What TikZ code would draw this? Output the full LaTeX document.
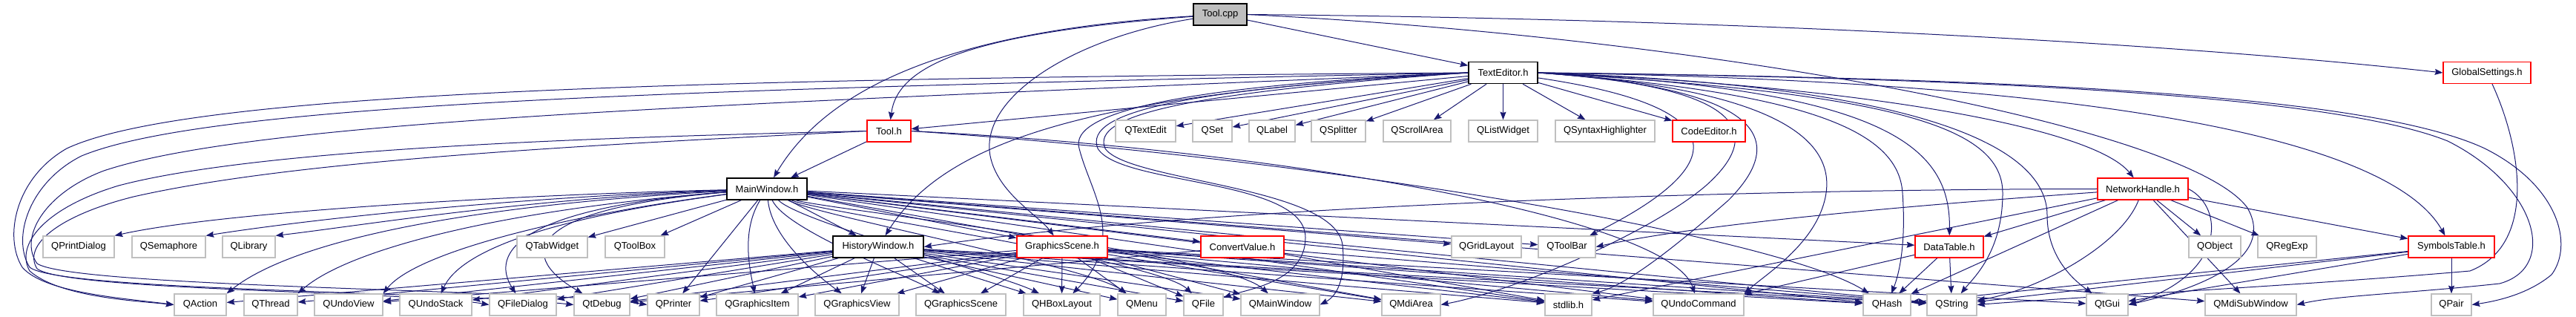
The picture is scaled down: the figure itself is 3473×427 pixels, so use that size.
\documentclass[tikz,border=0pt]{standalone}
\usepackage{fontspec}
\setmainfont{Liberation Sans}
\usetikzlibrary{arrows.meta}
\definecolor{edgec}{RGB}{25,25,112}
\definecolor{sysgray}{RGB}{191,191,191}
\definecolor{docred}{RGB}{255,0,0}
\definecolor{cppfill}{RGB}{191,191,191}
\newcommand\dxfont{\fontsize{9.75pt}{11pt}\selectfont}
\pgfdeclarelayer{edges}
\pgfsetlayers{edges,main}
\begin{document}
\begin{tikzpicture}[x=0.75pt,y=-0.75pt,
  box/.style={fill=white, minimum height=21.75pt, inner sep=0pt, font=\dxfont},
  sysbox/.style={box, draw=sysgray, line width=0.9pt},
  docbox/.style={box, draw=docred, line width=0.9pt},
  blkbox/.style={box, draw=black, line width=1.1pt},
  wd/.style={minimum width=#1*0.75pt},
  e/.style={draw=edgec, line width=0.75pt, -{Stealth[length=8pt,width=6pt,inset=1pt]}}]
\useasboundingbox (0,0) rectangle (3473,427);
% row 0
\node[blkbox, fill=cppfill, wd=72] (tc) at (1645,19.5) {Tool.cpp};
% row 1
\node[blkbox, wd=93] (te) at (2026.5,98) {TextEditor.h};
\node[docbox, wd=118] (gs) at (3353,98) {GlobalSettings.h};
% row 2
\node[docbox, wd=59] (th) at (1198.5,176.5) {Tool.h};
\node[sysbox, wd=81] (qtextedit) at (1544.5,176.5) {QTextEdit};
\node[sysbox, wd=53] (qset) at (1634.5,176.5) {QSet};
\node[sysbox, wd=62] (qlabel) at (1715,176.5) {QLabel};
\node[sysbox, wd=73] (qsplitter) at (1804.5,176.5) {QSplitter};
\node[sysbox, wd=91] (qscrollarea) at (1910.5,176.5) {QScrollArea};
\node[sysbox, wd=93] (qlistwidget) at (2026.5,176.5) {QListWidget};
\node[sysbox, wd=134] (qsyntax) at (2164,176.5) {QSyntaxHighlighter};
\node[docbox, wd=98] (codeed) at (2304,176.5) {CodeEditor.h};
% row 3
\node[blkbox, wd=108] (mw) at (1034,254.5) {MainWindow.h};
\node[docbox, wd=122] (nh) at (2889,254.5) {NetworkHandle.h};
% row 4
\node[sysbox, wd=96] (qprintdialog) at (106,332.5) {QPrintDialog};
\node[sysbox, wd=99] (qsemaphore) at (227.5,332.5) {QSemaphore};
\node[sysbox, wd=71] (qlibrary) at (335.5,332.5) {QLibrary};
\node[sysbox, wd=95] (qtabwidget) at (744.5,332.5) {QTabWidget};
\node[sysbox, wd=80] (qtoolbox) at (856,332.5) {QToolBox};
\node[blkbox, wd=122] (hw) at (1184,332.5) {HistoryWindow.h};
\node[docbox, wd=122] (gsh) at (1432,332.5) {GraphicsScene.h};
\node[docbox, wd=112] (cv) at (1675,332.5) {ConvertValue.h};
\node[sysbox, wd=94] (qgridlayout) at (2004,332.5) {QGridLayout};
\node[sysbox, wd=77] (qtoolbar) at (2112.5,332.5) {QToolBar};
\node[docbox, wd=92] (dt) at (2628,332.5) {DataTable.h};
\node[sysbox, wd=70] (qobject) at (2986,332.5) {QObject};
\node[sysbox, wd=79] (qregexp) at (3083.5,332.5) {QRegExp};
\node[docbox, wd=116] (st) at (3305,332.5) {SymbolsTable.h};
% row 5
\node[sysbox, wd=70] (qaction) at (270,410.5) {QAction};
\node[sysbox, wd=72] (qthread) at (365,410.5) {QThread};
\node[sysbox, wd=92] (qundoview) at (470,410.5) {QUndoView};
\node[sysbox, wd=97] (qundostack) at (587.5,410.5) {QUndoStack};
\node[sysbox, wd=90] (qfiledialog) at (705,410.5) {QFileDialog};
\node[sysbox, wd=75] (qtdebug) at (811.5,410.5) {QtDebug};
\node[sysbox, wd=70] (qprinter) at (908,410.5) {QPrinter};
\node[sysbox, wd=110] (qgitem) at (1021,410.5) {QGraphicsItem};
\node[sysbox, wd=113] (qgview) at (1155.5,410.5) {QGraphicsView};
\node[sysbox, wd=121] (qgscene) at (1295.5,410.5) {QGraphicsScene};
\node[sysbox, wd=103] (qhbox) at (1431.5,410.5) {QHBoxLayout};
\node[sysbox, wd=65] (qmenu) at (1539.5,410.5) {QMenu};
\node[sysbox, wd=53] (qfile) at (1622.5,410.5) {QFile};
\node[sysbox, wd=106] (qmainwindow) at (1726,410.5) {QMainWindow};
\node[sysbox, wd=79] (qmdiarea) at (1902.5,410.5) {QMdiArea};
\node[sysbox, wd=63] (stdlibh) at (2114.5,410.5) {stdlib.h};
\node[sysbox, wd=122] (qundocmd) at (2290,410.5) {QUndoCommand};
\node[sysbox, wd=64] (qhash) at (2544,410.5) {QHash};
\node[sysbox, wd=67] (qstring) at (2631.5,410.5) {QString};
\node[sysbox, wd=56] (qtgui) at (2841,410.5) {QtGui};
\node[sysbox, wd=123] (qmdisub) at (3034.5,410.5) {QMdiSubWindow};
\node[sysbox, wd=54] (qpair) at (3305,410.5) {QPair};

\begin{pgfonlayer}{edges}
% Tool.cpp
\draw[e] (tc) -- (te);
\draw[e] (tc.east) .. controls (2300,25) and (2900,55) .. (gs.west);
\draw[e] (tc.east) .. controls (2300,50) and (2950,170) .. (3030,280) .. controls (3070,350) and (2960,390) .. (qtgui.east);
\draw[e] (tc) .. controls (1300,45) and (1210,90) .. (th);
\draw[e] (tc) .. controls (1300,40) and (1120,110) .. (mw);
\draw[e] (tc) .. controls (1450,50) and (1320,130) .. (1335,210) .. controls (1345,260) and (1400,290) .. (gsh);
% TextEditor.h
\foreach \t in {qtextedit,qset,qlabel,qsplitter,qscrollarea,qlistwidget,qsyntax,codeed}
  \draw[e] (te) -- (\t);
\draw[e] (te) -- (th);
\draw[e] (te.west) .. controls (1500,125) and (1280,180) .. (hw);
\draw[e] (te.east) .. controls (2500,115) and (2820,170) .. (nh);
\draw[e] (te.east) .. controls (2550,120) and (2630,200) .. (dt);
\draw[e] (te.east) .. controls (2900,110) and (3230,200) .. (st);
\draw[e] (te) .. controls (2380,150) and (2300,240) .. (qtoolbar);
\draw[e] (te.east) .. controls (2330,115) and (2390,170) .. (2300,250) .. controls (2230,310) and (2050,390) .. (qmdiarea.east);
\draw[e] (te.east) .. controls (2360,118) and (2420,180) .. (2330,270) .. controls (2250,340) and (2190,385) .. (stdlibh.north east);
\draw[e] (te.east) .. controls (2400,120) and (2480,190) .. (2460,270) .. controls (2445,330) and (2380,370) .. (qundocmd.north east);
\draw[e] (te.east) .. controls (2450,125) and (2560,180) .. (2565,260) .. controls (2570,330) and (2560,370) .. (qhash);
\draw[e] (te.east) .. controls (2550,125) and (2700,170) .. (2700,260) .. controls (2700,340) and (2660,375) .. (qstring);
\draw[e] (te.east) .. controls (2600,115) and (2760,200) .. (2760,290) .. controls (2760,350) and (2800,380) .. (qtgui);
\draw[e] (te.east) .. controls (2700,105) and (3150,130) .. (3300,190) .. controls (3420,250) and (3450,360) .. (3370,382) .. controls (3250,395) and (3150,398) .. (qmdisub.east);
\draw[e] (te.east) .. controls (2750,105) and (3200,130) .. (3350,200) .. controls (3450,250) and (3470,330) .. (3440,370) .. controls (3410,395) and (3370,405) .. (qpair.east);
\draw[e] (te.west) .. controls (1600,115) and (1440,150) .. (1455,200) .. controls (1470,260) and (1520,320) .. (qhbox);
\draw[e] (te.west) .. controls (1600,120) and (1460,150) .. (1480,200) .. controls (1510,250) and (1760,240) .. (1760,320) .. controls (1760,380) and (1680,390) .. (qfile);
\draw[e] (te.west) .. controls (1600,125) and (1470,155) .. (1490,200) .. controls (1520,245) and (1800,250) .. (1810,330) .. controls (1815,380) and (1800,400) .. (qmainwindow.east);
\draw[e] (te.west) .. controls (900,106) and (250,125) .. (90,200) .. controls (20,240) and (5,320) .. (30,360) .. controls (60,395) and (170,402) .. (qaction.west);
\draw[e] (te.west) .. controls (900,120) and (280,140) .. (110,210) .. controls (40,245) and (15,320) .. (40,360) .. controls (80,392) and (600,392) .. (qtdebug.west);
\draw[e] (te.west) .. controls (1000,140) and (350,160) .. (140,230) .. controls (60,260) and (25,320) .. (50,355) .. controls (100,388) and (750,390) .. (qprinter.west);
% Tool.h
\draw[e] (th) -- (mw);
\draw[e] (th.west) .. controls (800,185) and (350,200) .. (160,250) .. controls (60,280) and (20,330) .. (40,365) .. controls (80,400) and (180,405) .. (qaction.west);
\draw[e] (th.west) .. controls (800,195) and (400,215) .. (180,265) .. controls (80,290) and (30,330) .. (50,362) .. controls (90,392) and (550,392) .. (qfiledialog.west);
\draw[e] (th.east) .. controls (1700,200) and (2250,290) .. (qundocmd);
\draw[e] (th.east) .. controls (1800,215) and (2400,320) .. (qhash);
% MainWindow.h
\draw[e] (mw) .. controls (700,262) and (300,285) .. (qprintdialog.north east);
\draw[e] (mw) .. controls (700,265) and (420,295) .. (qsemaphore.north east);
\draw[e] (mw) .. controls (700,268) and (480,305) .. (qlibrary.north east);
\draw[e] (mw) -- (qtabwidget);
\draw[e] (mw) -- (qtoolbox);
\draw[e] (mw) .. controls (650,275) and (400,320) .. (qaction.north east);
\draw[e] (mw) .. controls (680,282) and (470,335) .. (qthread.north east);
\draw[e] (mw) .. controls (760,290) and (560,340) .. (qundoview.north east);
\draw[e] (mw) .. controls (730,295) and (620,340) .. (qundostack);
\draw[e] (mw) .. controls (700,280) and (660,340) .. (qfiledialog);
\draw[e] (mw) .. controls (720,280) and (690,340) .. (qtdebug);
\draw[e] (mw) -- (qprinter);
\draw[e] (mw) .. controls (1000,310) and (1010,360) .. (qgitem);
\draw[e] (mw) .. controls (1040,320) and (1100,370) .. (qgview);
\draw[e] (mw) .. controls (1060,310) and (1220,370) .. (qgscene);
\draw[e] (mw) .. controls (1080,300) and (1350,370) .. (qhbox);
\draw[e] (mw) .. controls (1100,290) and (1470,360) .. (qmenu);
\draw[e] (mw) .. controls (1100,285) and (1560,350) .. (qfile);
\draw[e] (mw) .. controls (1100,280) and (1650,340) .. (qmainwindow);
\foreach \t in {hw,gsh,cv,qgridlayout,qtoolbar,dt,qmdiarea,stdlibh,qundocmd,qhash,qstring,qmdisub}
  \draw[e] (mw) -- (\t);
% HistoryWindow.h
\foreach \t in {qaction,qthread,qundoview,qundostack,qfiledialog,qtdebug,qprinter,qgitem,qgview,qgscene,qhbox,qmenu,qfile,qmainwindow,qmdiarea,stdlibh,qundocmd,qhash,qstring}
  \draw[e] (hw) -- (\t);
% GraphicsScene.h
\foreach \t in {qundoview,qtdebug,qprinter,qgitem,qgview,qgscene,qhbox,qmenu,qfile,qmainwindow,qmdiarea,stdlibh,qundocmd,qhash,qstring,qtgui}
  \draw[e] (gsh) -- (\t);
% ConvertValue.h
\foreach \t in {qtdebug,stdlibh,qstring}
  \draw[e] (cv) -- (\t);
% DataTable.h
\foreach \t in {qhash,qstring,qundocmd}
  \draw[e] (dt) -- (\t);
% NetworkHandle.h
\foreach \t in {qobject,qregexp,st,dt,qhash,stdlibh,qmdisub}
  \draw[e] (nh) -- (\t);
\draw[e] (nh.west) .. controls (2300,255) and (1600,280) .. (hw.east);
\draw[e] (nh) .. controls (2600,275) and (2300,300) .. (qtoolbar.east);
\draw[e] (nh) .. controls (2860,330) and (2750,390) .. (qstring);
\draw[e] (nh.east) .. controls (3000,280) and (3000,370) .. (qtgui.east);
% SymbolsTable.h
\foreach \t in {qpair,qstring,qtgui,qhash}
  \draw[e] (st) -- (\t);
% GlobalSettings.h
\draw[e] (gs) .. controls (3400,200) and (3420,330) .. (3330,365) .. controls (3100,385) and (2800,400) .. (qstring.east);
\end{pgfonlayer}
\end{tikzpicture}
\end{document}
